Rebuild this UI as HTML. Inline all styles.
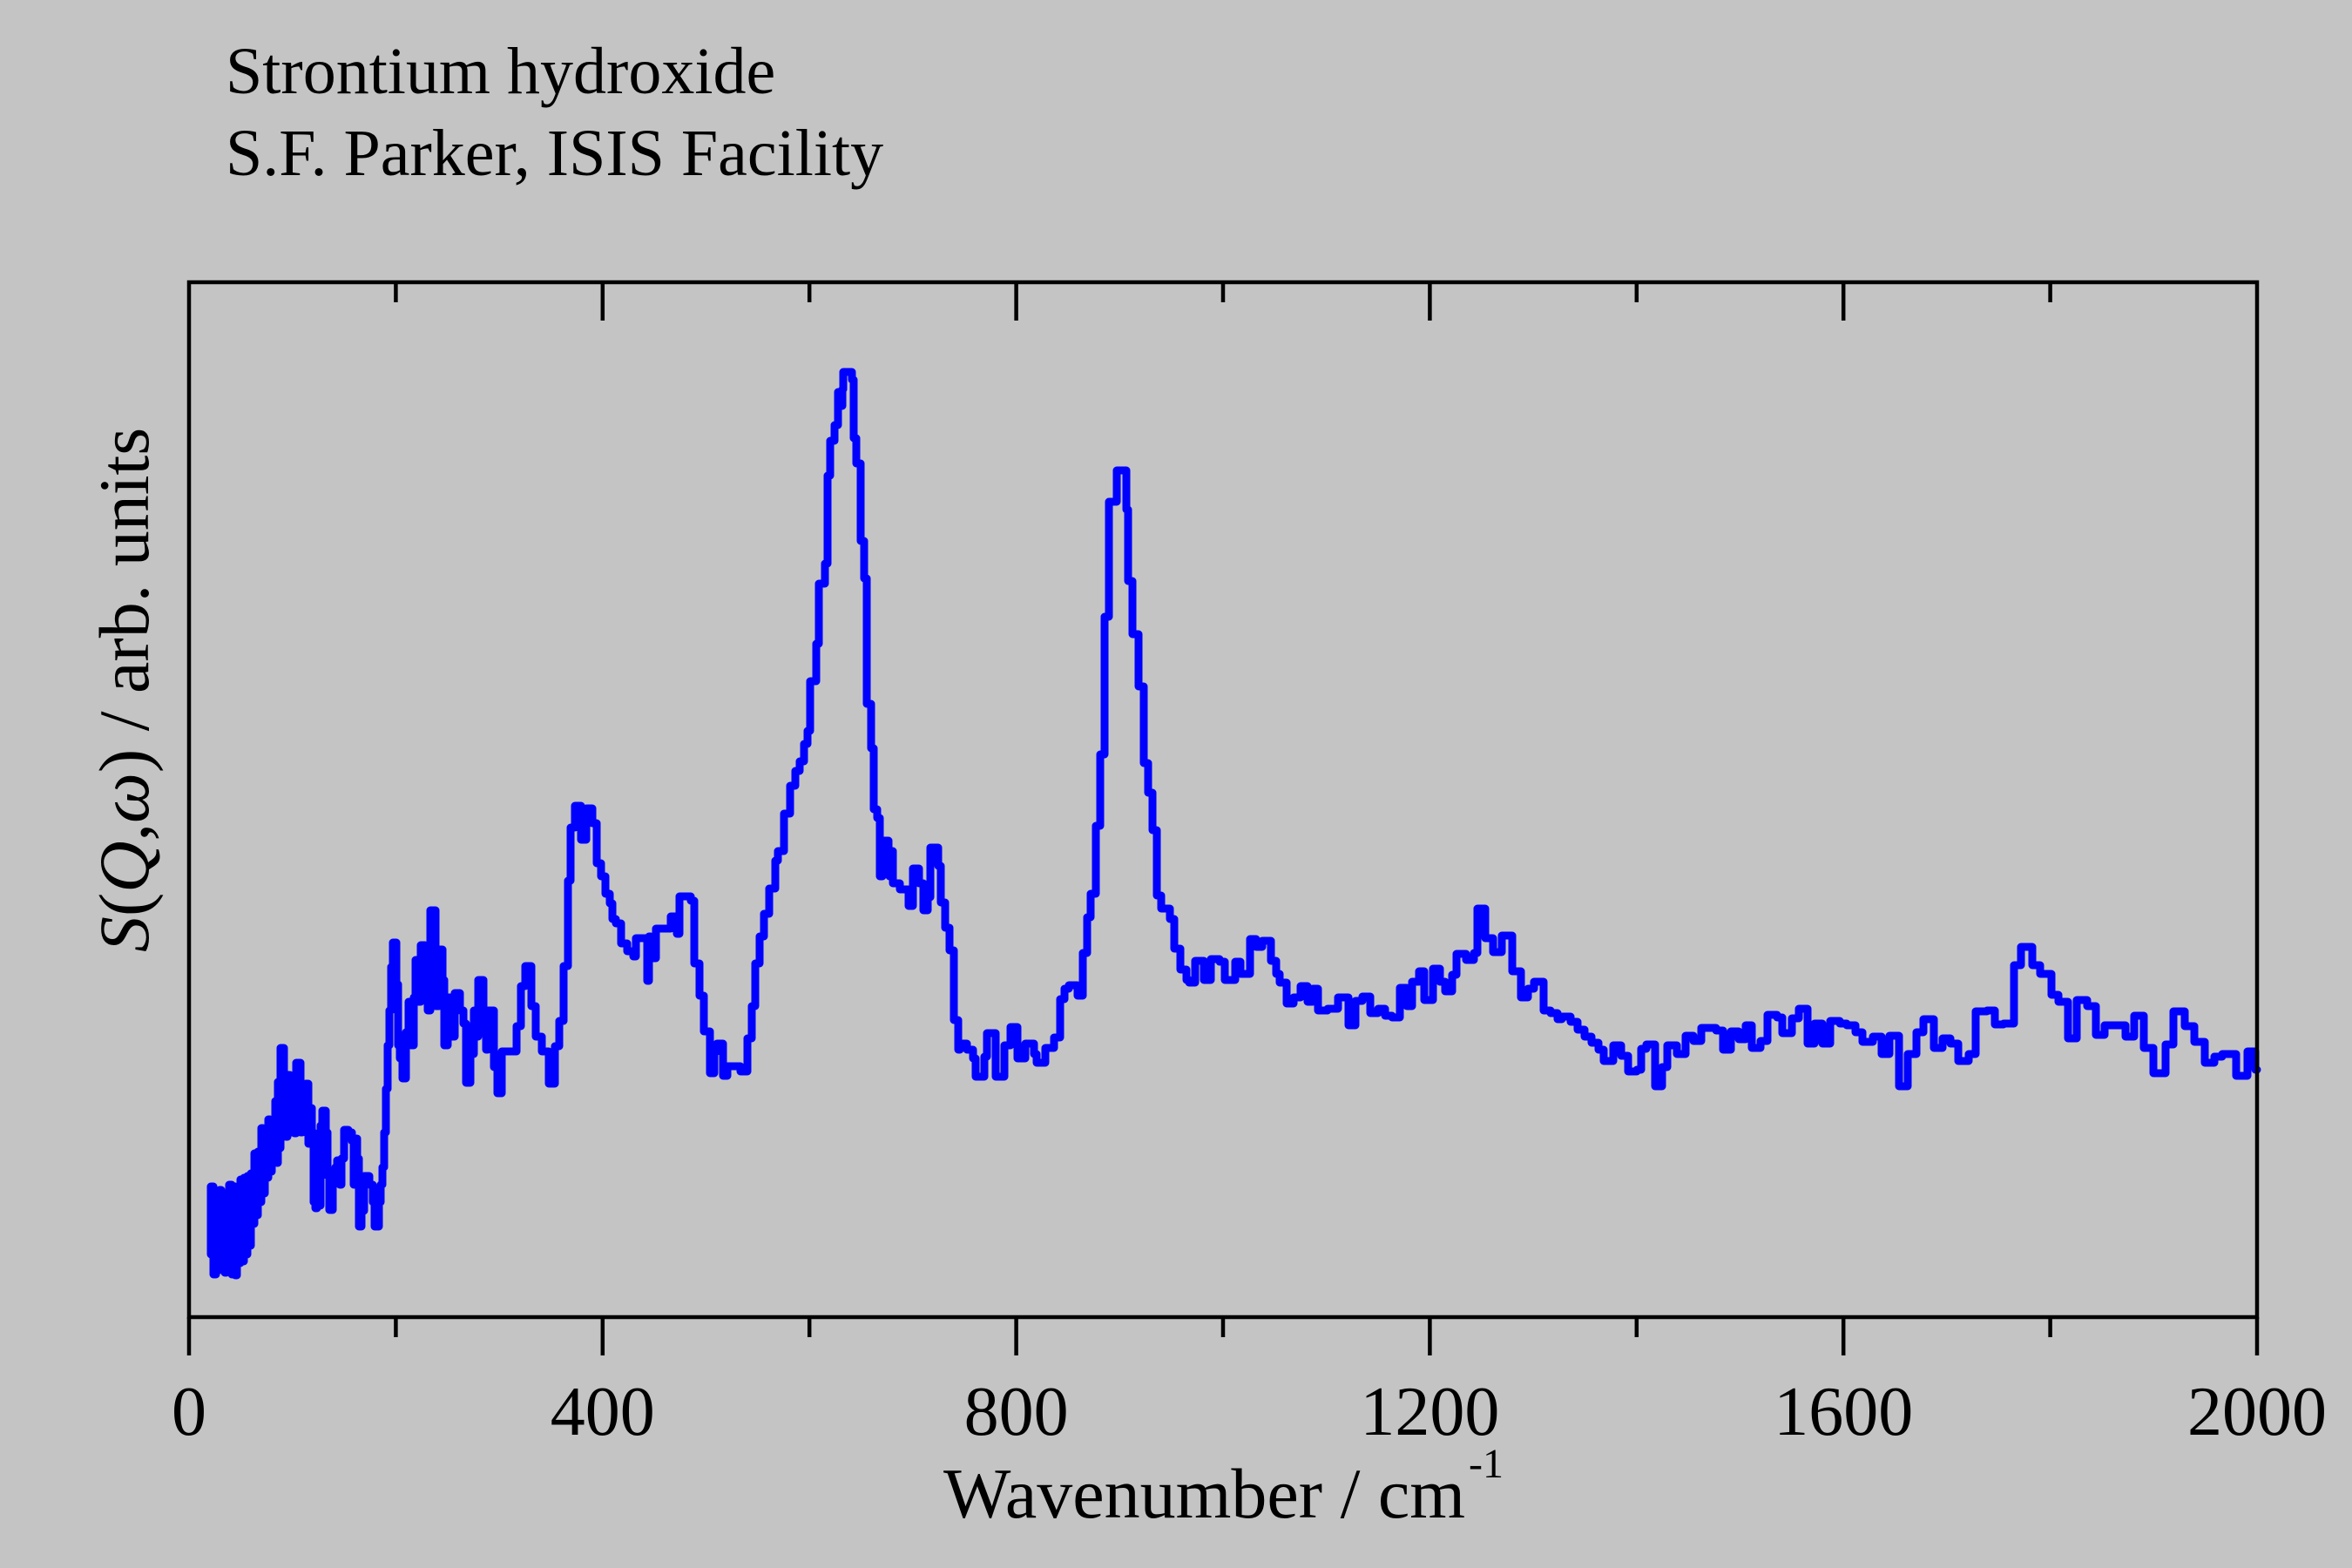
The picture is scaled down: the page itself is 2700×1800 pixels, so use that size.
<!DOCTYPE html>
<html>
<head>
<meta charset="utf-8">
<style>
  html, body { margin: 0; padding: 0; background: #c4c4c4; }
  svg { display: block; }
  text { font-family: "Liberation Serif", "Times New Roman", serif; fill: #000; }
</style>
</head>
<body>
<svg width="2700" height="1800" viewBox="0 0 2700 1800" xmlns="http://www.w3.org/2000/svg">
  <rect x="0" y="0" width="2700" height="1800" fill="#c4c4c4"/>

  <!-- Title -->
  <text x="259" y="107" font-size="76">Strontium hydroxide</text>
  <text x="259" y="201" font-size="76">S.F. Parker, ISIS Facility</text>

  <!-- Data -->
  <path fill="none" stroke="#0000ff" stroke-width="9" stroke-linejoin="round" stroke-linecap="round" d="
  M242,1440 V1362 H245 V1463 H248 V1370 H250 V1458 H252 V1366 H254 V1450 H256 V1372 H258 V1461 H260 V1380 H262 V1440 H263 V1360 H266 V1463 H268 V1362 H270 V1464 H272 V1375 H274 V1450 H276 V1354 H278 V1448 H280 V1352 H282 V1440 H284 V1350 H286 V1430 H288 V1347 H290 V1405 H292 V1324 H294 V1395 H296 V1322 H298 V1380 H300 V1295 H302 V1370 H304 V1298 H306 V1352 H308 V1285 H310 V1345 H312 V1288 H314 V1330 H316 V1264 H318 V1335 H319 V1242 H321 V1318 H322 V1203 H326 V1240 H328 V1305 H330 V1234 H333 V1300 H336 V1238 H338 V1301 H340 V1220 H345 V1300 H347 V1247 H349 V1282 H351 V1244 H354 V1313 H356 V1272 H358 V1300 H360 V1380 H362 V1387 H364 V1320 H366 V1384 H368 V1292 H370 V1275 H374 V1300 H376 V1350 H378 V1389 H382 V1352 H385 V1340 H387 V1332 H390 V1360 H392 V1330 H395 V1297 H400 V1300 H404 V1310 H406 V1360 H408 V1307 H410 V1330 H412 V1408 H415 V1390 H418 V1350 H424 V1360 H428 V1380 H430 V1408 H435 V1380 H437 V1360 H439 V1340 H441 V1300 H443 V1250 H445 V1200 H447 V1160 H449 V1110 H451 V1082 H455 V1130 H457 V1200 H459 V1215 H462 V1238 H466 V1185 H469 V1150 H472 V1200 H475 V1145 H477 V1102 H480 V1150 H483 V1085 H488 V1140 H491 V1160 H494 V1045 H500 V1155 H504 V1090 H508 V1125 H510 V1200 H514 V1145 H518 V1190 H522 V1140 H528 V1160 H532 V1175 H535 V1243 H540 V1210 H544 V1160 H547 V1190 H549 V1125 H555 V1180 H558 V1205 H560 V1160 H567 V1225 H571 V1255 H576 V1207
  H593 V1178 H598 V1132 H603 V1109 H610 V1155 H615 V1190 H622 V1207 H630 V1244 H637 V1201 H642 V1172 H647 V1109 H652 V1011 H655 V950 H660 V925 H667 V964 H673 V928 H680 V945 H685 V991 H690 V1006 H695 V1026 H700 V1037 H703 V1055 H707 V1060 H713 V1083 H720 V1092 H727 V1098 H730 V1077 H743 V1126 H745 V1075 H747 V1100 H753 V1066 H770 V1052 H777 V1072 H780 V1029 H793 V1034 H797 V1106 H803 V1143 H808 V1184 H815 V1232 H820 V1207 H823 V1198 H830 V1235 H835 V1224 H850 V1230 H858 V1192 H863 V1155 H867 V1106 H872 V1075 H877 V1049 H883 V1020 H890 V988 H893 V977 H900 V934 H907 V902 H913 V885 H918 V874 H923 V854 H927 V839 H930 V782 H937 V739 H940 V670 H947 V647 H950 V546 H953 V506 H958 V488 H962 V450 H965 V466 H967 V447 H968 V427 H978 V436 H980 V503 H983 V532 H988 V621 H992 V664 H995 V808 H1000 V859 H1003 V929 H1007 V939 H1010 V1006 H1013 V965 H1020 V977 H1021 V1006 H1023 V977 H1025 V1014 H1033 V1021 H1043 V1040 H1048 V997 H1055 V1014 H1060 V1045 H1065 V1030 H1068 V973 H1077 V994 H1080 V1036 H1085 V1065 H1090 V1091 H1095 V1171 H1100 V1205 H1102 V1198 H1110 V1205 H1117 V1215 H1120 V1236 H1130 V1213 H1133 V1186 H1143 V1236 H1153 V1200 H1160 V1179 H1168 V1215 H1177 V1198 H1187 V1210 H1190 V1220 H1200 V1203 H1210 V1191 H1217 V1147 H1222 V1135 H1227 V1131 H1237 V1143 H1243 V1094 H1248 V1053 H1252 V1026 H1258 V948 H1263 V866 H1268 V708 H1273 V576 H1282 V540 H1293 V585 H1295 V667 H1300 V728 H1307 V788 H1313 V876 H1318 V910 H1323 V953 H1328 V1028 H1333 V1043 H1343 V1055 H1348 V1089 H1355 V1113 H1362 V1125 H1365 V1128 H1372 V1103 H1382 V1125 H1390 V1101 H1400 V1104
  H1406 V1125 H1418 V1104 H1424 V1118 H1435 V1078 H1442 V1087 H1449 V1080 H1459 V1103 H1465 V1118 H1469 V1128 H1477 V1152 H1485 V1145 H1493 V1132 H1501 V1150 H1507 V1135 H1513 V1160 H1524 V1158 H1536 V1145 H1548 V1177 H1556 V1149 H1564 V1144 H1573 V1163 H1582 V1158 H1590 V1166 H1598 V1168 H1607 V1134 H1615 V1155 H1621 V1127 H1629 V1115 H1635 V1148 H1645 V1112 H1653 V1127 H1659 V1138 H1667 V1119 H1672 V1095 H1683 V1102 H1692 V1094 H1696 V1043 H1705 V1077 H1714 V1093 H1724 V1074 H1736 V1115 H1746 V1145 H1754 V1135 H1761 V1127 H1772 V1160 H1780 V1163 H1788 V1170 H1793 V1167 H1803 V1173 H1811 V1182 H1819 V1190 H1827 V1197 H1835 V1205 H1841 V1218 H1852 V1200 H1861 V1212 H1869 V1230 H1879 V1228 H1884 V1204 H1890 V1199 H1900 V1247 H1908 V1225 H1914 V1200 H1925 V1210 H1935 V1189 H1944 V1195 H1953 V1180 H1970 V1183 H1978 V1205 H1987 V1184 H1996 V1193 H2004 V1177 H2011 V1203
  H2021 V1195 H2029 V1165 H2040 V1168 H2046 V1186 H2057 V1169 H2065 V1158 H2075 V1198 H2083 V1175 H2092 V1198 H2101 V1172 H2112 V1175 H2120 V1177 H2130 V1185 H2138 V1196 H2150 V1190 H2160 V1210 H2169 V1189 H2180 V1247 H2190 V1210 H2200 V1185 H2208 V1170 H2220 V1203 H2230 V1192 H2239 V1198 H2248 V1218 H2260 V1210 H2268 V1161 H2281 V1160 H2290 V1176 H2300 V1175 H2312 V1108 H2320 V1087 H2333 V1108 H2342 V1118 H2355 V1142 H2363 V1150 H2374 V1192 H2384 V1148 H2396 V1155 H2406 V1188 H2416 V1177 H2440 V1190 H2450 V1166 H2461 V1203 H2472 V1232 H2486 V1199 H2495 V1161 H2508 V1178 H2519 V1196 H2531 V1220 H2542 V1213 H2551 V1210 H2567 V1235 H2580 V1207 H2589 V1228 H2591"/>

  <!-- Axes frame -->
  <rect x="217" y="324" width="2374" height="1188" fill="none" stroke="#000" stroke-width="4.5"/>

  <!-- Ticks -->
  <g stroke="#000" stroke-width="4.5">
    <!-- bottom major -->
    <line x1="217" y1="1512" x2="217" y2="1556"/>
    <line x1="691.8" y1="1512" x2="691.8" y2="1556"/>
    <line x1="1166.6" y1="1512" x2="1166.6" y2="1556"/>
    <line x1="1641.4" y1="1512" x2="1641.4" y2="1556"/>
    <line x1="2116.2" y1="1512" x2="2116.2" y2="1556"/>
    <line x1="2591" y1="1512" x2="2591" y2="1556"/>
    <!-- bottom minor -->
    <line x1="454.4" y1="1512" x2="454.4" y2="1535"/>
    <line x1="929.2" y1="1512" x2="929.2" y2="1535"/>
    <line x1="1404" y1="1512" x2="1404" y2="1535"/>
    <line x1="1878.8" y1="1512" x2="1878.8" y2="1535"/>
    <line x1="2353.6" y1="1512" x2="2353.6" y2="1535"/>
    <!-- top major (inward) -->
    <line x1="691.8" y1="324" x2="691.8" y2="368"/>
    <line x1="1166.6" y1="324" x2="1166.6" y2="368"/>
    <line x1="1641.4" y1="324" x2="1641.4" y2="368"/>
    <line x1="2116.2" y1="324" x2="2116.2" y2="368"/>
    <!-- top minor -->
    <line x1="454.4" y1="324" x2="454.4" y2="347"/>
    <line x1="929.2" y1="324" x2="929.2" y2="347"/>
    <line x1="1404" y1="324" x2="1404" y2="347"/>
    <line x1="1878.8" y1="324" x2="1878.8" y2="347"/>
    <line x1="2353.6" y1="324" x2="2353.6" y2="347"/>
  </g>

  <!-- Tick labels -->
  <g font-size="80" text-anchor="middle">
    <text x="217" y="1647">0</text>
    <text x="691.8" y="1647">400</text>
    <text x="1166.6" y="1647">800</text>
    <text x="1641.4" y="1647">1200</text>
    <text x="2116.2" y="1647">1600</text>
    <text x="2591" y="1647">2000</text>
  </g>

  <!-- X label -->
  <text x="1083" y="1742" font-size="82">Wavenumber / cm</text>
  <text x="1686" y="1696" font-size="48">-1</text>

  <!-- Y label -->
  <text transform="translate(170,1093) rotate(-90)" font-size="82"><tspan font-style="italic">S</tspan>(<tspan font-style="italic">Q</tspan>,<tspan font-style="italic">ω</tspan>) / arb. units</text>
</svg>
</body>
</html>
